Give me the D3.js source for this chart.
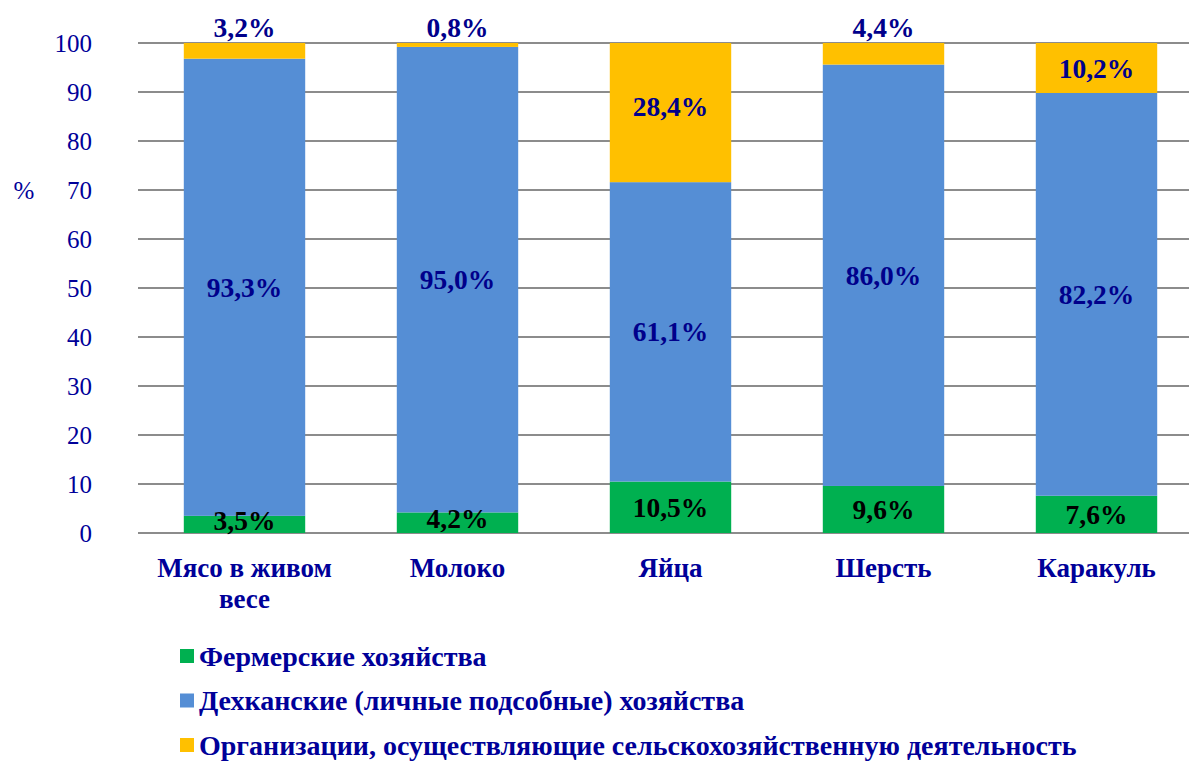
<!DOCTYPE html>
<html>
<head>
<meta charset="utf-8">
<script src="https://cdn.jsdelivr.net/npm/d3@7"></script>
<style>
  body { margin: 0; background: #fff; }
  svg { display: block; font-family: "Liberation Serif", "Times New Roman", serif; }
</style>
</head>
<body>
<svg id="chart" width="1189" height="762"></svg>
<script>
// categories and series (percent of total)
var categories = ["Мясо в живом весе", "Молоко", "Яйца", "Шерсть", "Каракуль"];
var farms = [3.5, 4.2, 10.5, 9.6, 7.6];
var dehkan = [93.3, 95.0, 61.1, 86.0, 82.2];
var orgs = [3.2, 0.8, 28.4, 4.4, 10.2];
var seriesNames = [
  "Фермерские хозяйства",
  "Дехканские (личные подсобные) хозяйства",
  "Организации, осуществляющие сельскохозяйственную деятельность"
];
var yTicks = [0, 10, 20, 30, 40, 50, 60, 70, 80, 90, 100];

var colors = ["#00B050", "#558ED5", "#FFC000"];
var labelColors = ["#000000", "#00008B", "#00008B"];
var navy = "#000099";

var svg = d3.select("#chart");

var x = d3.scaleBand()
    .domain(categories)
    .range([138, 1203])
    .paddingInner(0.43)
    .paddingOuter(0.215);

var y = d3.scaleLinear()
    .domain([0, 100])
    .range([533, 43]);

// gridlines
svg.append("g")
  .selectAll("line")
  .data(yTicks)
  .enter()
  .append("line")
  .attr("x1", 138)
  .attr("x2", 1189)
  .attr("y1", function(d) { return y(d); })
  .attr("y2", function(d) { return y(d); })
  .attr("stroke", "#8c8c8c")
  .attr("stroke-width", 2);

// y axis tick labels
var yAxis = d3.axisLeft(y).tickValues(yTicks).tickSize(0).tickPadding(0);
var yg = svg.append("g").attr("transform", "translate(92,0)").call(yAxis);
yg.select(".domain").remove();
yg.selectAll("text")
  .attr("fill", navy)
  .style("font-size", "25px")
  .style("font-family", "Liberation Serif, serif")
  .attr("dy", "0.35em");

svg.append("text")
  .attr("x", 24)
  .attr("y", 190)
  .attr("dy", "0.35em")
  .attr("text-anchor", "middle")
  .attr("fill", navy)
  .style("font-size", "25px")
  .text("%");

// stack the data
var rows = categories.map(function(c, i) {
  return { cat: c, s0: farms[i], s1: dehkan[i], s2: orgs[i] };
});
var stack = d3.stack().keys(["s0", "s1", "s2"]);
var layers = stack(rows);

var layerG = svg.selectAll(".layer")
  .data(layers)
  .enter()
  .append("g")
  .attr("class", "layer")
  .attr("fill", function(d, i) { return colors[i]; });

layerG.selectAll("rect")
  .data(function(d) { return d; })
  .enter()
  .append("rect")
  .attr("x", function(d) { return x(d.data.cat); })
  .attr("width", x.bandwidth())
  .attr("y", function(d) { return y(d[1]); })
  .attr("height", function(d) { return y(d[0]) - y(d[1]); });

// value labels
layers.forEach(function(layer, li) {
  svg.append("g")
    .selectAll("text")
    .data(layer)
    .enter()
    .append("text")
    .attr("x", function(d) { return x(d.data.cat) + x.bandwidth() / 2; })
    .attr("y", function(d) {
      var v = d[1] - d[0];
      if (li == 2 && v < 5) return y(100) - 16;
      if (li == 2 && v > 20) return y((d[0] + d[1]) / 2) - 6;
      if (li == 0 && v < 5) return y((d[0] + d[1]) / 2) - 4;
      return y((d[0] + d[1]) / 2);
    })
    .attr("dy", "0.35em")
    .attr("text-anchor", "middle")
    .attr("fill", labelColors[li])
    .style("font-size", "27.5px")
    .style("font-weight", "bold")
    .text(function(d) { return d3.format(".1f")(d[1] - d[0]).replace(".", ",") + "%"; });
});

// category labels (meat label wraps)
var catLines = {
  "Мясо в живом весе": ["Мясо в живом", "весе"]
};
var catG = svg.append("g");
categories.forEach(function(c) {
  var lines = catLines[c] || [c];
  var t = catG.append("text")
    .attr("x", x(c) + x.bandwidth() / 2)
    .attr("y", 577)
    .attr("text-anchor", "middle")
    .attr("fill", navy)
    .style("font-size", "27px")
    .style("font-weight", "bold");
  lines.forEach(function(l, k) {
    t.append("tspan")
      .attr("x", x(c) + x.bandwidth() / 2)
      .attr("dy", k == 0 ? 0 : 31)
      .text(l);
  });
});

// legend
var legend = svg.append("g")
  .selectAll("g")
  .data(seriesNames)
  .enter()
  .append("g")
  .attr("transform", function(d, i) { return "translate(180," + (656 + i * 44.5) + ")"; });

legend.append("rect")
  .attr("x", 0)
  .attr("y", -7)
  .attr("width", 14)
  .attr("height", 14)
  .attr("fill", function(d, i) { return colors[i]; });

legend.append("text")
  .attr("x", 19)
  .attr("y", 0)
  .attr("dy", "0.35em")
  .attr("fill", navy)
  .style("font-size", "28px")
  .style("font-weight", "bold")
  .text(function(d) { return d; });
</script>
</body>
</html>
